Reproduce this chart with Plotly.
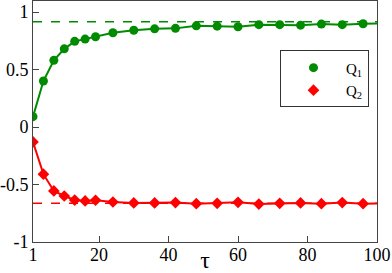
import plotly.graph_objects as go

tau = [1, 4, 7, 10, 13, 16, 19, 24, 30, 36, 42, 48, 54, 60, 66, 72, 78, 84, 90, 96]
q1 = [0.09, 0.40, 0.58, 0.68, 0.745, 0.765, 0.785, 0.82, 0.842, 0.854, 0.858, 0.88,
      0.877, 0.872, 0.89, 0.89, 0.886, 0.895, 0.89, 0.898]
q2 = [-0.13, -0.41, -0.556, -0.60, -0.635, -0.643, -0.637, -0.652, -0.66, -0.66, -0.657, -0.667,
      -0.664, -0.655, -0.67, -0.664, -0.66, -0.667, -0.657, -0.667]
# fitted curves (connect the points and extend to tau = 100)
fit_tau = tau + [100]
fit_q1 = q1 + [0.90]
fit_q2 = q2 + [-0.665]
q1_limit = 0.915
q2_limit = -0.663

xticks = [1, 20, 40, 60, 80, 100]
yticks = [-1, -0.5, 0, 0.5, 1]

GREEN = "#008B00"
RED = "#FF0000"
SERIF = "Liberation Serif, Times New Roman, Times, serif"

fig = go.Figure()
fig.add_trace(go.Scatter(x=[1, 100], y=[q1_limit, q1_limit], mode="lines",
                         line=dict(color=GREEN, width=1.5, dash="dash"), showlegend=False))
fig.add_trace(go.Scatter(x=[1, 100], y=[q2_limit, q2_limit], mode="lines",
                         line=dict(color=RED, width=1.5, dash="dash"), showlegend=False))
fig.add_trace(go.Scatter(x=fit_tau, y=fit_q1, mode="lines",
                         line=dict(color=GREEN, width=2), showlegend=False))
fig.add_trace(go.Scatter(x=fit_tau, y=fit_q2, mode="lines",
                         line=dict(color=RED, width=2), showlegend=False))
fig.add_trace(go.Scatter(x=tau, y=q1, mode="markers", name="Q<sub>1</sub>",
                         marker=dict(symbol="circle", size=9, color=GREEN)))
fig.add_trace(go.Scatter(x=tau, y=q2, mode="markers", name="Q<sub>2</sub>",
                         marker=dict(symbol="diamond", size=9, color=RED)))

axis_common = dict(showline=True, linecolor="#444", linewidth=1, mirror=True,
                   ticks="inside", ticklen=6, tickcolor="#444", showgrid=False,
                   zeroline=False, tickfont=dict(family=SERIF, size=18, color="black"))
fig.update_xaxes(range=[1, 100], tickvals=xticks, ticktext=[str(v) for v in xticks],
                 title=dict(text="τ", font=dict(family=SERIF, size=24, color="black"),
                            standoff=0),
                 ticklabelstandoff=-4,
                 **axis_common)
fig.update_yaxes(range=[-1, 1.096], tickvals=yticks, ticktext=["-1", "-0.5", "0", "0.5", "1"],
                 ticklabelstandoff=0,
                 **axis_common)

fig.update_layout(
    width=392, height=273,
    margin=dict(l=33, r=15, t=1, b=31, autoexpand=False),
    plot_bgcolor="white", paper_bgcolor="white",
    font=dict(family=SERIF, color="black"),
    legend=dict(x=0.718, y=0.795, xanchor="left", yanchor="top",
                bordercolor="#333", borderwidth=1, bgcolor="white",
                font=dict(family=SERIF, size=15, color="black"),
                itemwidth=55, tracegroupgap=0),
)

fig.write_html("out.html", config={"displayModeBar": False},
               post_script="document.body.style.margin='0';document.body.style.overflow='hidden';")
